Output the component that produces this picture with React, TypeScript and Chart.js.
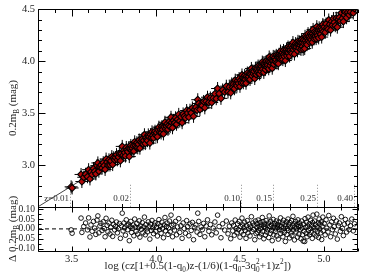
import React, { useEffect, useRef } from "react";
import { Chart, registerables } from "chart.js";

Chart.register(...registerables);

// Axis ranges and tick values
const xRange = [3.3, 5.2];
const magRange = [2.6, 4.5];
const resRange = [-0.1125, 0.1125];
const xTicks = [3.5, 4.0, 4.5, 5.0];
const magTicks = [3.0, 3.5, 4.0, 4.5];
const resTicks = [0.1, 0.05, 0.0, -0.05, -0.1];

// Hubble-line intercept: 0.2 m_B = log cz - aB
const aB = 0.7;

// Redshift markers along the bottom of the upper panel
const zLabels = ["z=0.01", "0.02", "0.10", "0.15", "0.25", "0.40"];
const zLogCz = [3.49, 3.85, 4.51, 4.70, 4.96, 5.18];
const zMarkTop = 2.82;

// Supernovae: log cz and Hubble residual (Δ 0.2 m_B)
const logCz = [
  3.497, 3.503, 3.556, 3.561, 3.572, 3.583, 3.594, 3.601, 3.609, 3.615,
  3.622, 3.630, 3.637, 3.644, 3.651, 3.656, 3.662, 3.668, 3.674, 3.681,
  3.688, 3.694, 3.699, 3.705, 3.711, 3.716, 3.722, 3.728, 3.733, 3.739,
  3.744, 3.750, 3.756, 3.761, 3.767, 3.772, 3.778, 3.784, 3.790, 3.795,
  3.801,
  3.806, 3.811, 3.815, 3.820, 3.825, 3.829, 3.834, 3.839, 3.843, 3.848,
  3.852, 3.857, 3.861, 3.866, 3.870, 3.875, 3.879, 3.884, 3.888, 3.893,
  3.897, 3.902, 3.906, 3.911, 3.915, 3.920, 3.924, 3.929, 3.933, 3.938,
  3.942, 3.947, 3.951, 3.956, 3.960, 3.965, 3.969, 3.974, 3.978, 3.983,
  3.987, 3.992, 3.996, 4.001, 4.005, 4.010, 4.014, 4.019, 4.023, 4.028,
  4.032, 4.037, 4.041, 4.046, 4.050, 4.055, 4.059, 4.064, 4.068, 4.073,
  4.077, 4.082, 4.086, 4.091, 4.095, 4.100,
  4.106, 4.112, 4.118, 4.124, 4.130, 4.137, 4.143, 4.150, 4.157, 4.163,
  4.170, 4.177, 4.184, 4.190, 4.197, 4.204, 4.211, 4.218, 4.225, 4.232,
  4.239, 4.246, 4.250, 4.256, 4.263, 4.270, 4.277, 4.285, 4.292, 4.300,
  4.308, 4.316, 4.325, 4.333, 4.342, 4.352, 4.360, 4.368, 4.377, 4.388,
  4.398, 4.410, 4.420, 4.430, 4.438, 4.446,
  4.452, 4.458, 4.463, 4.468, 4.473, 4.478, 4.483, 4.487, 4.492, 4.496,
  4.501, 4.505, 4.509, 4.513, 4.517, 4.521, 4.525, 4.529, 4.533, 4.537,
  4.541, 4.545, 4.549, 4.553, 4.557, 4.561, 4.565, 4.569, 4.573, 4.577,
  4.581, 4.585, 4.589, 4.593, 4.597,
  4.601, 4.603, 4.607, 4.609, 4.612, 4.616, 4.618, 4.621, 4.625, 4.627,
  4.630, 4.634, 4.636, 4.639, 4.643, 4.645, 4.648, 4.652, 4.654, 4.657,
  4.661, 4.663, 4.666, 4.670, 4.672, 4.675, 4.679, 4.681, 4.684, 4.688,
  4.690, 4.693, 4.697, 4.699, 4.702, 4.706, 4.708, 4.711, 4.715, 4.717,
  4.720, 4.724, 4.726, 4.729, 4.733, 4.735, 4.738, 4.742, 4.744, 4.747,
  4.751, 4.753, 4.756, 4.760, 4.762, 4.765, 4.769, 4.771, 4.774, 4.778,
  4.780, 4.783, 4.787, 4.789, 4.792, 4.796, 4.798, 4.801, 4.805, 4.807,
  4.810, 4.814, 4.816, 4.819, 4.823, 4.825, 4.828, 4.832, 4.834, 4.837,
  4.841, 4.843, 4.846, 4.850, 4.852, 4.855, 4.859, 4.861, 4.864, 4.868,
  4.870, 4.873, 4.877, 4.879, 4.882, 4.886, 4.888, 4.891, 4.895, 4.897,
  4.900, 4.904, 4.906, 4.909, 4.913, 4.915, 4.918, 4.922, 4.924, 4.927,
  4.931, 4.933, 4.936, 4.940, 4.942, 4.945, 4.949, 4.951, 4.954, 4.958,
  4.960, 4.963, 4.967, 4.969, 4.972, 4.976, 4.978, 4.981, 4.985, 4.987,
  4.990, 4.994, 4.996,
  5.002, 5.008, 5.013, 5.018, 5.024, 5.029, 5.035, 5.040, 5.046, 5.051,
  5.057, 5.062, 5.068, 5.074, 5.080, 5.086, 5.092, 5.098, 5.104, 5.110,
  5.116, 5.122, 5.128, 5.135, 5.142, 5.150, 5.158, 5.166, 5.175, 5.182,
];

const dMag = [
  -0.005, -0.022, 0.055, -0.018, 0.012, 0.030, -0.005, 0.056, -0.041, 0.020,
  -0.012, 0.038, 0.004, -0.028, 0.045, 0.066, -0.020, 0.015, 0.028, -0.008,
  0.036, 0.002, -0.040, 0.054, 0.018, -0.015, 0.030, -0.026, 0.008, 0.044,
  -0.038, 0.022, -0.005, 0.012, 0.035, -0.020, 0.001, 0.027, -0.048, 0.016,
  0.080,
  -0.010, 0.030, 0.005, -0.032, 0.046, 0.018, -0.004, 0.024, -0.060, 0.012,
  0.038, -0.018, 0.003, 0.020, -0.035, 0.050, 0.010, -0.012, 0.028, -0.026,
  0.006, 0.041, -0.042, 0.015, -0.002, 0.032, -0.020, 0.009, 0.060, -0.030,
  0.022, 0.000, -0.015, 0.036, 0.012, -0.052, 0.025, -0.008, 0.043, 0.005,
  -0.024, 0.018, 0.031, -0.012, 0.008, -0.036, 0.026, 0.047, -0.004, 0.015,
  -0.022, 0.034, 0.003, -0.045, 0.020, 0.058, -0.010, 0.012, 0.030, -0.028,
  0.005, 0.040, -0.015, 0.070, 0.018, -0.040,
  0.024, -0.006, 0.038, -0.030, 0.010, 0.052, -0.018, 0.016, -0.048, 0.030,
  0.002, -0.022, 0.042, 0.012, -0.035, 0.025, -0.008, 0.033, -0.055, 0.006,
  0.020, -0.016, 0.080, 0.038, -0.028, 0.010, -0.004, 0.028, -0.040, 0.015,
  0.046, -0.012, 0.022, -0.030, 0.004, 0.035, -0.020, 0.070, 0.012, -0.045,
  0.026, -0.006, 0.040, -0.025, 0.014, -0.050,
  0.030, -0.010, 0.018, -0.032, 0.045, 0.002, -0.020, 0.026, -0.004, 0.038,
  -0.042, 0.012, -0.016, 0.055, 0.020, -0.028, 0.006, 0.034, -0.008, -0.048,
  0.016, 0.042, -0.020, 0.000, 0.024, -0.036, 0.010, 0.062, -0.014, 0.030,
  -0.002, 0.018, -0.055, 0.040, -0.024,
  0.008, 0.026, -0.018, 0.045, -0.006, 0.014, -0.040, 0.032, 0.002, -0.026,
  0.020, 0.058, -0.012, 0.036, -0.050, 0.010, 0.024, -0.032, 0.004, 0.042,
  -0.016, 0.016, -0.004, 0.030, -0.044, 0.066, 0.012, -0.022, 0.038, -0.008,
  0.020, -0.060, 0.006, 0.048, -0.030, 0.014, 0.028, -0.014, 0.000, 0.040,
  -0.036, 0.022, 0.008, -0.052, 0.034, -0.002, 0.018, 0.056, -0.024, 0.010,
  -0.010, 0.030, -0.040, 0.044, 0.004, -0.018, 0.024, -0.064, 0.014, 0.036,
  -0.028, 0.002, 0.050, -0.008, 0.020, -0.046, 0.032, 0.006, -0.020, 0.042,
  -0.034, 0.016, 0.064, -0.006, 0.026, -0.056, 0.010, 0.038, -0.016, 0.000,
  0.022, -0.042, 0.046, 0.012, -0.026, 0.030, -0.004, 0.016, -0.050, 0.040,
  0.004, -0.030, -0.062, 0.024, -0.012, -0.064, 0.052, 0.008, -0.022, 0.034,
  -0.040, 0.014, 0.060, -0.008, 0.026, -0.030, 0.002, 0.044, -0.018, 0.018,
  -0.048, 0.032, 0.070, 0.006, -0.026, 0.040, -0.006, 0.022, -0.036, 0.075,
  0.010, -0.014, 0.030, -0.044, 0.050, 0.000, 0.024, -0.020, 0.036, -0.054,
  0.014, 0.060, -0.010,
  0.028, -0.030, 0.046, 0.004, -0.016, 0.068, 0.020, -0.040, 0.036, -0.004,
  0.054, 0.012, -0.026, 0.040, -0.052, 0.016, 0.030, -0.012, 0.062, 0.002,
  -0.034, 0.024, 0.048, -0.016, 0.030, -0.004, 0.016, 0.050, -0.010, 0.026,
];

const SERIF = '"Liberation Serif", "DejaVu Serif", "Times New Roman", serif';
const INK = "#1e1e1e";

// A text run; "over" places a superscript directly above the preceding subscript
type Seg = { t: string; m?: "sub" | "sup"; over?: boolean };

function segFont(size: number, m?: string) {
  return `${m ? size * 0.66 : size}px ${SERIF}`;
}

function layoutRich(ctx: CanvasRenderingContext2D, segs: Seg[], size: number) {
  const xs: number[] = [];
  let x = 0;
  let prevStart = 0;
  let prevW = 0;
  for (const s of segs) {
    ctx.font = segFont(size, s.m);
    const w = ctx.measureText(s.t).width;
    if (s.over) {
      xs.push(prevStart);
      x = prevStart + Math.max(prevW, w);
    } else {
      xs.push(x);
      prevStart = x;
      prevW = w;
      x += w;
    }
  }
  return { xs, width: x };
}

// Draws a run of text with sub/superscripts centred on cx, baseline at by
function drawRich(ctx: CanvasRenderingContext2D, segs: Seg[], cx: number, by: number, size: number) {
  const { xs, width } = layoutRich(ctx, segs, size);
  const x0 = cx - width / 2;
  ctx.textAlign = "left";
  ctx.textBaseline = "alphabetic";
  segs.forEach((s, i) => {
    ctx.font = segFont(size, s.m);
    const dy = s.m === "sub" ? size * 0.26 : s.m === "sup" ? -size * 0.42 : 0;
    ctx.fillText(s.t, x0 + xs[i], by + dy);
  });
}

const yTitle: Seg[] = [{ t: "0.2m" }, { t: "B", m: "sub" }, { t: " (mag)" }];
const resTitle: Seg[] = [{ t: "Δ 0.2m" }, { t: "B", m: "sub" }, { t: " (mag)" }];
const xTitle: Seg[] = [
  { t: "log (cz[1+0.5(1-q" }, { t: "0", m: "sub" },
  { t: ")z-(1/6)(1-q" }, { t: "0", m: "sub" },
  { t: "-3q" }, { t: "0", m: "sub" }, { t: "2", m: "sup", over: true },
  { t: "+1)z" }, { t: "2", m: "sup" }, { t: "])" },
];

function minorValues(min: number, max: number, step: number) {
  const out: number[] = [];
  const k0 = Math.ceil(min / step - 1e-6);
  const k1 = Math.floor(max / step + 1e-6);
  for (let k = k0; k <= k1; k++) out.push(+(k * step).toFixed(6));
  return out;
}

function isMultiple(v: number, step: number) {
  const r = v / step;
  return Math.abs(r - Math.round(r)) < 1e-6;
}

// Box frame with inward-pointing ticks on all sides, IDL style
const framePlugin = {
  id: "frame",
  beforeDatasetsDraw(chart: any) {
    const ctx = chart.ctx as CanvasRenderingContext2D;
    const xs = chart.scales.x;
    const ys = chart.scales.y;
    ctx.save();
    ctx.strokeStyle = "#8a8a8a";
    ctx.lineWidth = 1;
    ctx.setLineDash([1, 2]);
    const yb = ys.getPixelForValue(magRange[0]);
    const yt = ys.getPixelForValue(zMarkTop);
    zLogCz.forEach((v) => {
      const px = Math.round(xs.getPixelForValue(v)) + 0.5;
      ctx.beginPath();
      ctx.moveTo(px, yb);
      ctx.lineTo(px, yt);
      ctx.stroke();
    });
    ctx.restore();
  },
  afterDatasetsDraw(chart: any) {
    const ctx = chart.ctx as CanvasRenderingContext2D;
    const xs = chart.scales.x;
    const L = Math.round(xs.left) + 0.5;
    const R = Math.round(xs.right) - 0.5;
    ctx.save();
    ctx.strokeStyle = "#000";
    ctx.lineWidth = 1;
    const panels = [
      { s: chart.scales.y, step: 0.1, major: 0.5, lmaj: 7, lmin: 3.5 },
      { s: chart.scales.yRes, step: 0.025, major: 0.05, lmaj: 5, lmin: 3 },
    ];
    const xMinor = minorValues(xRange[0], xRange[1], 0.1);
    for (const p of panels) {
      const T = Math.round(p.s.top) + 0.5;
      const B = Math.round(p.s.bottom) + 0.5;
      ctx.beginPath();
      ctx.rect(L, T, R - L, B - T);
      ctx.stroke();
      ctx.beginPath();
      for (const v of xMinor) {
        const px = Math.round(xs.getPixelForValue(v)) + 0.5;
        const len = isMultiple(v, 0.5) ? p.lmaj : p.lmin;
        ctx.moveTo(px, T);
        ctx.lineTo(px, T + len);
        ctx.moveTo(px, B);
        ctx.lineTo(px, B - len);
      }
      for (const v of minorValues(p.s.min, p.s.max, p.step)) {
        const py = Math.round(p.s.getPixelForValue(v)) + 0.5;
        const len = isMultiple(v, p.major) ? p.lmaj : p.lmin;
        ctx.moveTo(L, py);
        ctx.lineTo(L + len, py);
        ctx.moveTo(R, py);
        ctx.lineTo(R - len, py);
      }
      ctx.stroke();
    }
    ctx.restore();
  },
  afterDraw(chart: any) {
    const ctx = chart.ctx as CanvasRenderingContext2D;
    const xs = chart.scales.x;
    const ys = chart.scales.y;
    const yr = chart.scales.yRes;
    ctx.save();

    // redshift labels next to their dotted markers
    ctx.font = `9px ${SERIF}`;
    ctx.textAlign = "right";
    ctx.textBaseline = "middle";
    ctx.fillStyle = "#333";
    const ly = ys.getPixelForValue(2.68);
    zLabels.forEach((t, i) => {
      ctx.fillText(t, Math.round(xs.getPixelForValue(zLogCz[i])) - 1, ly);
    });

    ctx.fillStyle = INK;
    // x-axis title
    drawRich(ctx, xTitle, (xs.left + xs.right) / 2, 269, 11);

    // rotated y-axis titles
    const rot = (segs: Seg[], cy: number) => {
      ctx.save();
      ctx.translate(16, cy);
      ctx.rotate(-Math.PI / 2);
      drawRich(ctx, segs, 0, 0, 11);
      ctx.restore();
    };
    rot(yTitle, (ys.top + ys.bottom) / 2);
    rot(resTitle, (yr.top + yr.bottom) / 2);
    ctx.restore();
  },
};

export default function App() {
  const ref = useRef<HTMLCanvasElement>(null);

  useEffect(() => {
    if (!ref.current) return;
    const hubble = logCz.map((x, i) => ({ x, y: x - aB + dMag[i] }));
    const resid = logCz.map((x, i) => ({ x, y: dMag[i] }));
    const fitLine = xRange.map((x) => ({ x, y: x - aB }));
    const zeroLine = xRange.map((x) => ({ x, y: 0 }));

    const tickFont = { family: SERIF, size: 10.5 };
    const chart = new Chart(ref.current, {
      type: "scatter",
      data: {
        datasets: [
          {
            type: "line",
            data: fitLine,
            yAxisID: "y",
            borderColor: "#444",
            borderWidth: 1,
            pointRadius: 0,
            order: 10,
          },
          {
            data: hubble,
            yAxisID: "y",
            pointStyle: "cross",
            pointRadius: 6.5,
            borderColor: "#000",
            borderWidth: 1,
            order: 9,
          },
          {
            data: hubble,
            yAxisID: "y",
            pointStyle: "rectRot",
            pointRadius: 3.4,
            backgroundColor: "#b00808",
            borderColor: "#000",
            borderWidth: 1.1,
            order: 8,
          },
          {
            type: "line",
            data: zeroLine,
            yAxisID: "yRes",
            borderColor: "#000",
            borderWidth: 1,
            borderDash: [4, 3],
            pointRadius: 0,
            order: 7,
          },
          {
            data: resid,
            yAxisID: "yRes",
            pointStyle: "circle",
            pointRadius: 2.3,
            backgroundColor: "rgba(0,0,0,0)",
            borderColor: "#000",
            borderWidth: 0.9,
            order: 6,
          },
        ] as any,
      },
      options: {
        animation: false,
        responsive: false,
        devicePixelRatio: 1,
        events: [],
        layout: { padding: { top: 5, right: 5, left: 0, bottom: 0 } },
        plugins: { legend: { display: false }, tooltip: { enabled: false } },
        scales: {
          x: {
            type: "linear",
            position: "bottom",
            min: xRange[0],
            max: xRange[1],
            grid: { display: false, drawTicks: false },
            border: { display: false },
            ticks: { font: tickFont, color: INK, padding: 2, autoSkip: false, callback: (v: any) => Number(v).toFixed(1) },
            afterBuildTicks: (s: any) => { s.ticks = xTicks.map((value) => ({ value })); },
            afterFit: (s: any) => { s.height = 22; },
          },
          yRes: {
            type: "linear",
            position: "left",
            stack: "panels",
            stackWeight: 45,
            min: resRange[0],
            max: resRange[1],
            grid: { display: false, drawTicks: false },
            border: { display: false },
            ticks: { font: { family: SERIF, size: 9.5 }, color: INK, padding: 3, autoSkip: false, callback: (v: any) => Number(v).toFixed(2) },
            afterBuildTicks: (s: any) => { s.ticks = resTicks.map((value) => ({ value })); },
            afterFit: (s: any) => { s.width = 38; },
          },
          y: {
            type: "linear",
            position: "left",
            stack: "panels",
            stackWeight: 201,
            min: magRange[0],
            max: magRange[1],
            grid: { display: false, drawTicks: false },
            border: { display: false },
            ticks: { font: tickFont, color: INK, padding: 3, autoSkip: false, callback: (v: any) => Number(v).toFixed(1) },
            afterBuildTicks: (s: any) => { s.ticks = magTicks.map((value) => ({ value })); },
            afterFit: (s: any) => { s.width = 38; },
          },
        } as any,
      },
      plugins: [framePlugin],
    });
    return () => chart.destroy();
  }, []);

  return (
    <div style={{ position: "fixed", left: 0, top: 0, width: 365, height: 273, background: "#fff" }}>
      <canvas ref={ref} width={365} height={273} style={{ display: "block" }} />
    </div>
  );
}
